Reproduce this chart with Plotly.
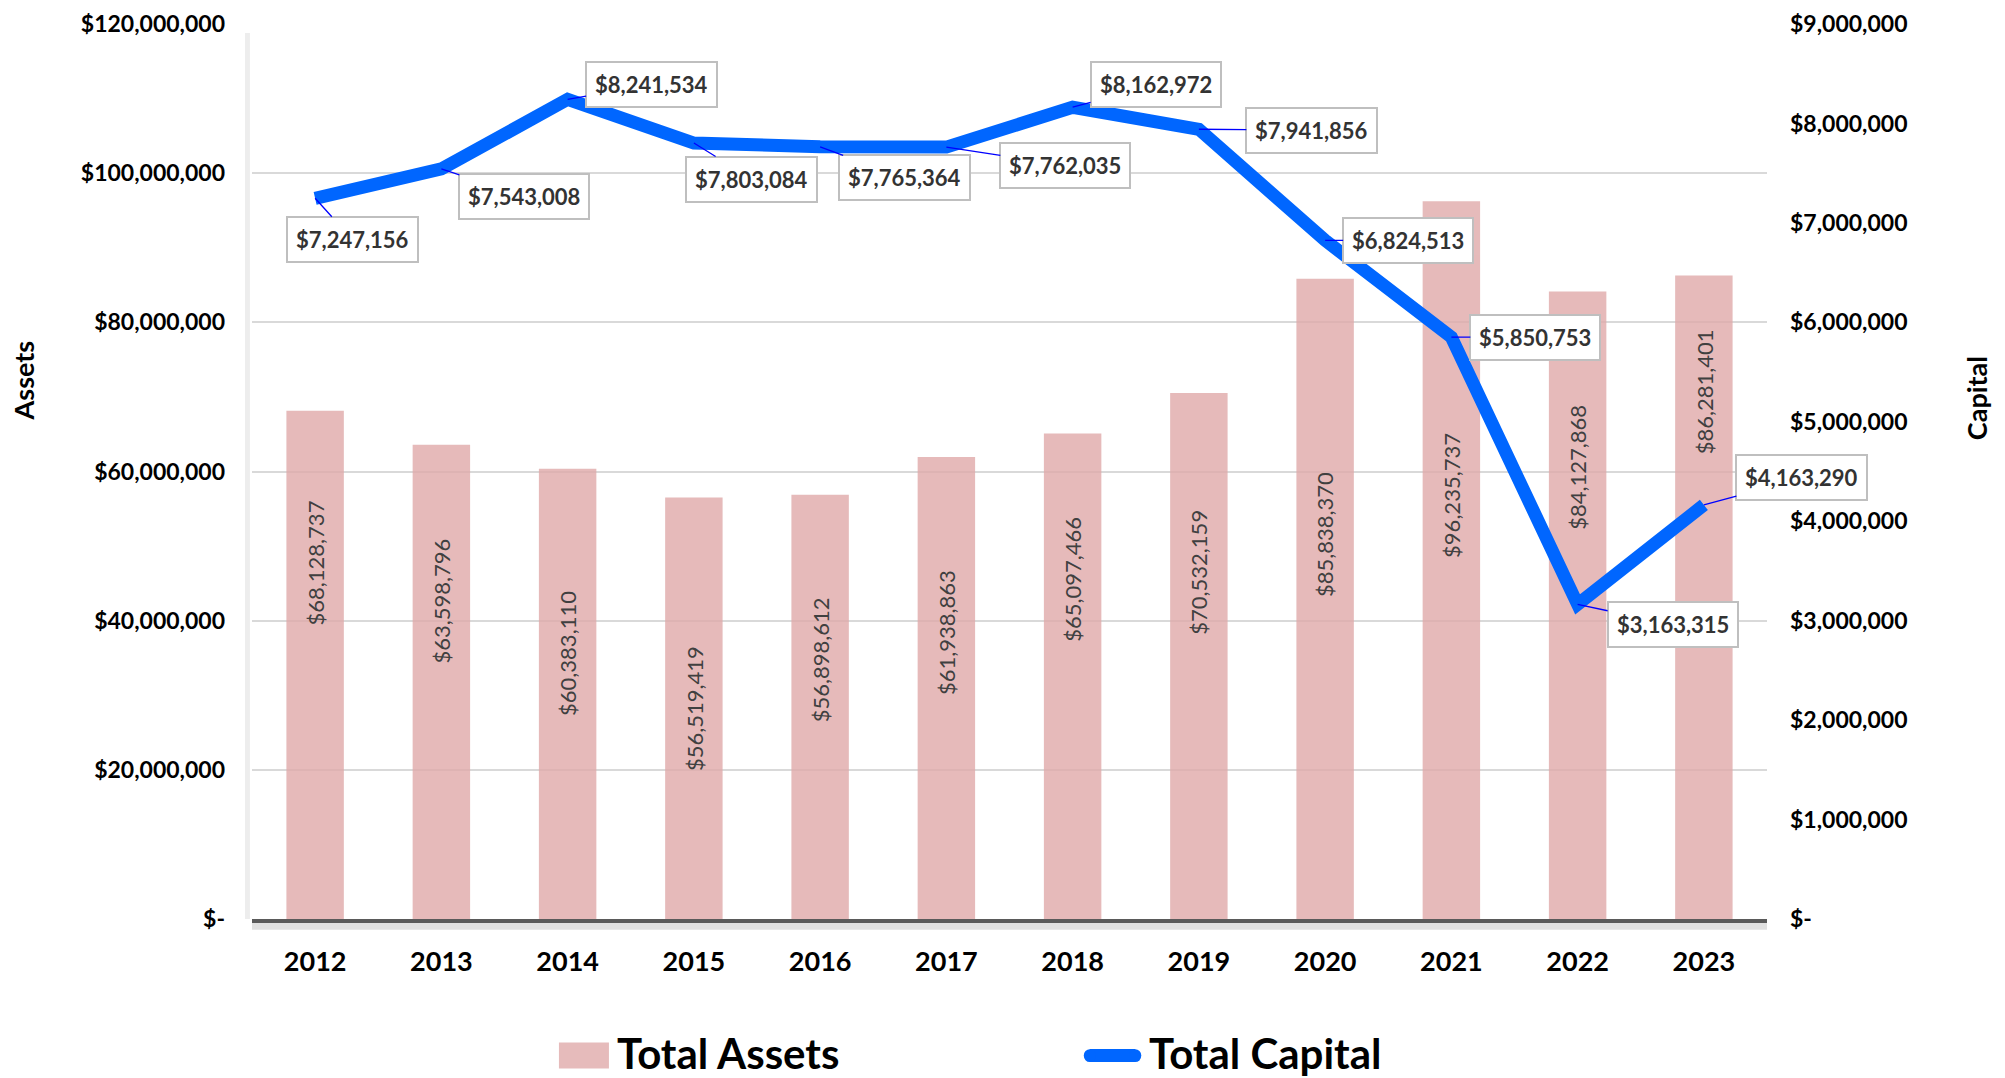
import plotly.graph_objects as go

# Chart data
years = ['2012', '2013', '2014', '2015', '2016', '2017',
         '2018', '2019', '2020', '2021', '2022', '2023']
total_assets = [68128737, 63598796, 60383110, 56519419, 56898612, 61938863,
                65097466, 70532159, 85838370, 96235737, 84127868, 86281401]
total_capital = [7247156, 7543008, 8241534, 7803084, 7765364, 7762035,
                 8162972, 7941856, 6824513, 5850753, 3163315, 4163290]

# Axis ticks
assets_ticks = [0, 20e6, 40e6, 60e6, 80e6, 100e6, 120e6]
capital_ticks = [0, 1e6, 2e6, 3e6, 4e6, 5e6, 6e6, 7e6, 8e6, 9e6]

# where each bar label sits, as a fraction of the bar height
bar_label_pos = [0.70, 0.67, 0.59, 0.50, 0.61, 0.62, 0.70, 0.66, 0.60, 0.59, 0.72, 0.82]

# pixel offsets of the capital callout boxes from their points
callout_offsets = [(37, 41), (83, 28), (84, -15), (58, 36), (84, 31), (119, 18),
                   (83, -23), (113, 1), (83, 0), (84, 0), (95, 20), (98, -27)]


def money(v):
    return '$-' if v == 0 else '${:,.0f}'.format(v)


FONT = 'Lato'

fig = go.Figure()

fig.add_trace(go.Bar(
    x=years, y=total_assets, name='Total Assets',
    marker=dict(color='rgb(224,170,170)', line=dict(width=0)),
    opacity=0.8, width=0.455, yaxis='y'
))

fig.add_trace(go.Scatter(
    x=years, y=total_capital, name='Total Capital',
    mode='lines', line=dict(color='#0066FF', width=13),
    yaxis='y2'
))

annotations = []

# rotated labels inside bars (x = category index)
for i, (v, f) in enumerate(zip(total_assets, bar_label_pos)):
    annotations.append(dict(
        x=i, y=v * f, xref='x', yref='y', text=money(v),
        showarrow=False, textangle=-90,
        font=dict(family=FONT, size=22, color='#404040')
    ))

# callouts for the capital line
for i, (v, (dx, dy)) in enumerate(zip(total_capital, callout_offsets)):
    annotations.append(dict(
        x=i, y=v, xref='x', yref='y2', text=money(v),
        showarrow=True, arrowhead=0, arrowwidth=1.3, arrowcolor='#0000FF',
        ax=dx, ay=dy, standoff=0,
        bgcolor='white', bordercolor='#BFBFBF', borderwidth=2, borderpad=8,
        font=dict(family=FONT, size=22, color='#333333', weight='bold')
    ))

# axis titles
annotations.append(dict(x=-0.151, y=0.602, xref='paper', yref='paper', text='Assets',
                        showarrow=False, textangle=-90, xanchor='center', yanchor='middle',
                        font=dict(family=FONT, size=27, color='black', weight='bold')))
annotations.append(dict(x=1.138, y=0.582, xref='paper', yref='paper', text='Capital',
                        showarrow=False, textangle=-90, xanchor='center', yanchor='middle',
                        font=dict(family=FONT, size=27, color='black', weight='bold')))

# legend text
annotations.append(dict(x=0.2396, y=-0.150, xref='paper', yref='paper', text='Total Assets',
                        showarrow=False, xanchor='left', yanchor='middle',
                        font=dict(family=FONT, size=42, color='black', weight='bold')))
annotations.append(dict(x=0.5908, y=-0.150, xref='paper', yref='paper', text='Total Capital',
                        showarrow=False, xanchor='left', yanchor='middle',
                        font=dict(family=FONT, size=42, color='black', weight='bold')))

shapes = [
    # shadow under the category axis and along the left edge
    dict(type='line', xref='paper', yref='paper', x0=0.0, x1=1.0, y0=-0.008, y1=-0.008,
         line=dict(color='rgba(0,0,0,0.12)', width=7), layer='below'),
    dict(type='line', xref='paper', yref='paper', x0=-0.003, x1=-0.003, y0=0.0, y1=0.99,
         line=dict(color='rgba(0,0,0,0.07)', width=5), layer='below'),
    # legend swatches
    dict(type='rect', xref='paper', yref='paper', x0=0.2026, x1=0.2356, y0=-0.167, y1=-0.138,
         fillcolor='#E6BBBB', line=dict(width=0)),
    dict(type='line', xref='paper', yref='paper', x0=0.553, x1=0.583, y0=-0.1526, y1=-0.1526,
         line=dict(color='#0066FF', width=13)),
    dict(type='circle', xref='paper', yref='paper', x0=0.549, x1=0.5570, y0=-0.1598, y1=-0.1454,
         fillcolor='#0066FF', line=dict(width=0)),
    dict(type='circle', xref='paper', yref='paper', x0=0.579, x1=0.587, y0=-0.1598, y1=-0.1454,
         fillcolor='#0066FF', line=dict(width=0)),
]

# the page body adds an 8px margin, so the figure is shrunk to compensate
fig.update_layout(
    width=1997, height=1070,
    margin=dict(l=244, r=238, t=16, b=159),
    paper_bgcolor='white', plot_bgcolor='white',
    showlegend=False,
    bargap=0.545,
    xaxis=dict(
        type='category', range=[-0.5, 11.5], showgrid=False, showline=True,
        linecolor='#5A5A5A', linewidth=4, ticks='', automargin=False,
        ticklabelstandoff=16,
        tickfont=dict(family=FONT, size=27, color='black', weight='bold')
    ),
    yaxis=dict(
        range=[0, 120e6], tickvals=assets_ticks,
        ticktext=[money(v) for v in assets_ticks],
        showgrid=True, gridcolor='#D9D9D9', gridwidth=1.5,
        zeroline=False, showline=False, ticks='', automargin=False,
        ticklabelstandoff=26, ticklabeloverflow='allow',
        tickfont=dict(family=FONT, size=23, color='black', weight='bold')
    ),
    yaxis2=dict(
        range=[0, 9e6], tickvals=capital_ticks,
        ticktext=[money(v) for v in capital_ticks],
        overlaying='y', side='right', showgrid=False,
        zeroline=False, showline=False, ticks='', automargin=False,
        ticklabelstandoff=22, ticklabeloverflow='allow',
        tickfont=dict(family=FONT, size=23, color='black', weight='bold')
    ),
    annotations=annotations,
    shapes=shapes
)

fig.write_html('out.html')
